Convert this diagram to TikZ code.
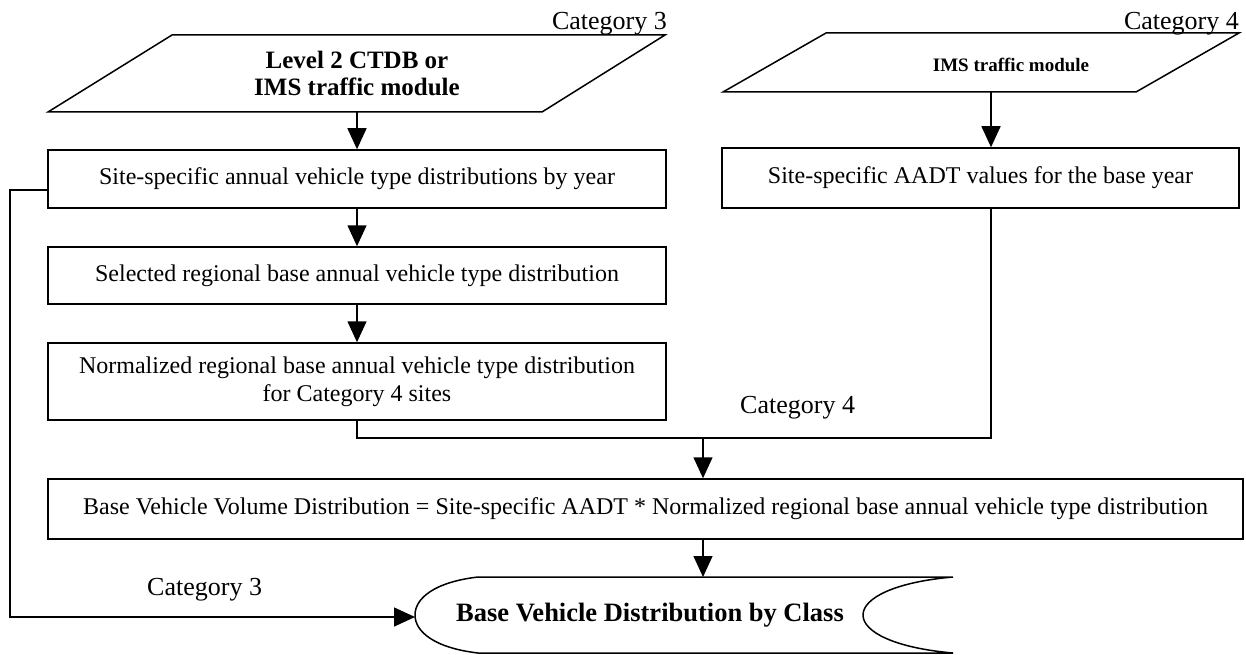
\documentclass[tikz,border=0pt]{standalone}
\usepackage{fontspec}
\setmainfont{Liberation Serif}
\usetikzlibrary{arrows.meta}
\begin{document}
\begin{tikzpicture}[x=1pt,y=-1pt,
  box/.style={draw,line width=1.5pt,inner sep=0pt,font=\fontsize{24}{28}\selectfont,align=center},
  arr/.style={line width=1.5pt,-{Triangle[length=21pt,width=19pt]}},
  ln/.style={line width=1.5pt},
  shp/.style={line width=1.5pt,line join=miter},
  cat/.style={font=\fontsize{26}{30}\selectfont,inner sep=0pt},
  bold1/.style={font=\fontsize{25}{27}\selectfont\bfseries,align=center,inner sep=0pt}]
\useasboundingbox (0,0) rectangle (1246,655);

% input parallelograms
\draw[shp] (172,35) -- (665,35) -- (542,112) -- (48,112) -- cycle;
\node[bold1] (in1) at (357,73) {Level 2 CTDB or\\IMS traffic module};
\coordinate (p1b) at (357,112);
\node[cat,anchor=base east] (c3top) at (667,30) {Category 3};

\draw[shp] (826,33) -- (1239,33) -- (1136,92) -- (723,92) -- cycle;
\node[font=\fontsize{19}{22}\selectfont\bfseries,inner sep=0pt,anchor=base] (in2) at (1011,72) {IMS traffic module};
\coordinate (p2b) at (991,92);
\node[cat,anchor=base east] (c4top) at (1239,30) {Category 4};

% process boxes
\node[box,minimum width=618pt,minimum height=58pt] (b1) at (357,179) {Site-specific annual vehicle type distributions by year};
\node[box,minimum width=618pt,minimum height=57pt] (b2) at (357,275.5) {Selected regional base annual vehicle type distribution};
\node[box,minimum width=618pt,minimum height=77pt] (b3) at (357,381.5) {Normalized regional base annual vehicle type distribution\\for Category 4 sites};
\node[box,minimum width=517pt,minimum height=60pt] (aadt) at (980.5,178) {Site-specific AADT values for the base year};
\node[box,minimum width=1195pt,minimum height=60pt] (b4) at (645.5,509) {Base Vehicle Volume Distribution = Site-specific AADT * Normalized regional base annual vehicle type distribution};

\node[cat,anchor=base west] (c4mid) at (740,413) {Category 4};
\node[cat,anchor=base west] (c3bot) at (147,595) {Category 3};

% stored data output
\draw[shp] (478,577) -- (953,577)
  .. controls (895,582) and (863,598) .. (863,615)
  .. controls (863,632) and (895,648) .. (953,653)
  -- (478,653)
  .. controls (435,648) and (415,632) .. (415,615)
  .. controls (415,598) and (435,582) .. (478,577) -- cycle;
\node[font=\fontsize{26.5}{30}\selectfont\bfseries,inner sep=0pt] (out) at (650,615) {Base Vehicle Distribution by Class};
\coordinate (sdw) at (415,617);
\coordinate (sdn) at (703,577);

% connectors
\draw[arr] (p1b) -- (b1.north);
\draw[arr] (b1.south) -- (b2.north);
\draw[arr] (b2.south) -- (b3.north);
\draw[arr] (p2b) -- (p2b |- aadt.north);
\coordinate (j) at (703,438);
\draw[ln] (b3.south) |- (j);
\draw[ln] (aadt.south -| p2b) |- (j);
\draw[arr] (j) -- (j |- b4.north);
\draw[arr] (b4.south -| j) -- (sdn);
\coordinate (lc) at (10,617);
\draw[arr] ([yshift=-11pt]b1.west) -| (lc) -- (sdw);
\end{tikzpicture}
\end{document}
